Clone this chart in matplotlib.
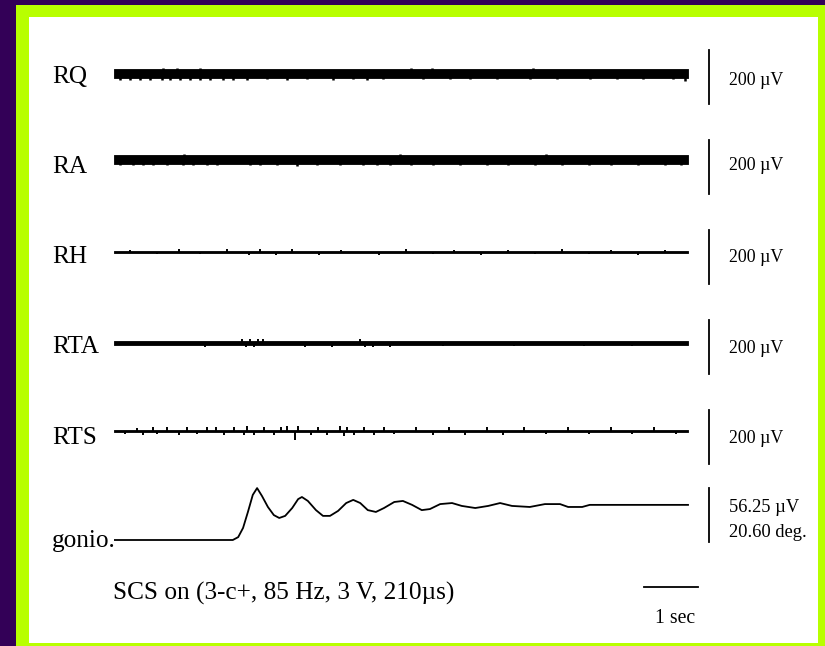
"""EMG traces during spinal cord stimulation onset, with goniometer angle."""

import matplotlib

matplotlib.use("Agg")
import matplotlib.pyplot as plt
from matplotlib.patches import Rectangle

# ---- data -------------------------------------------------------------
CHANNELS = ["RQ", "RA", "RH", "RTA", "RTS"]
EMG_SCALE_UV = 200.0          # vertical calibration bar for each EMG row
GONIO_SCALE_UV = 56.25
GONIO_SCALE_DEG = 20.60
TIME_BAR_S = 1.0

# envelope half-width (uV) per 1-s segment
SEG_T = [0, 1, 2, 3, 4, 5, 6, 7, 8, 9, 10, 10.63]
rq_env = [16, 16, 15, 15, 15, 15, 15, 15, 15, 15, 15]
ra_env = [16, 16, 16, 16, 16, 16, 16, 16, 16, 16, 16]
rh_env = [4, 4, 5, 5, 5, 4, 4, 4, 4, 4, 4]
rta_env = [7, 7, 7, 7, 7, 7, 7, 7, 7, 7, 7]
rts_env = [4, 4, 4, 5, 5, 5, 4, 4, 4, 4, 4]

# single spikes (time s, amplitude uV)
rq_spk_t = [0.11, 0.30, 0.48, 0.67, 0.89, 0.91, 1.04, 1.17, 1.22, 1.41, 1.59, 1.59,
            1.78, 2.02, 2.20, 2.46, 2.83, 3.20, 3.57, 4.06, 4.43, 4.69, 4.98, 5.50,
            5.72, 5.89, 6.22, 6.59, 7.09, 7.70, 7.76, 8.20, 8.81, 9.31, 9.80, 10.35, 10.57]
rq_spk_a = [-24, -24, -23, -24, -25, 22, -24, 22, -23, -24, -25, 22,
            -24, -23, -24, -23, -22, -23, -22, -23, -22, -23, -22, 21,
            -22, 22, -22, -22, -22, -22, 21, -22, -22, -22, -22, -22, -26]
ra_spk_t = [0.11, 0.35, 0.54, 0.72, 0.98, 1.28, 1.30, 1.46, 1.72, 1.91, 2.52, 2.70,
            3.02, 3.39, 3.76, 4.19, 4.61, 4.87, 5.11, 5.30, 5.50, 5.90, 6.40, 6.90,
            7.30, 7.80, 8.00, 8.30, 8.80, 9.20, 9.70, 10.20, 10.50]
ra_spk_a = [-22, -21, -22, -21, -22, -22, 21, -21, -22, -21, -22, -21,
            -22, -23, -21, -22, -21, -22, -21, 20, -21, -21, -21, -21,
            -21, -21, 20, -21, -21, -21, -21, -21, -21]
rh_spk_t = [0.30, 0.80, 1.20, 1.60, 2.10, 2.50, 2.70, 3.00, 3.30, 3.80, 4.20, 4.90,
            5.40, 5.90, 6.30, 6.80, 7.30, 7.80, 8.30, 8.80, 9.20, 9.70, 10.20]
rh_spk_a = [9, -9, 10, -9, 11, -12, 11, -11, 12, -10, 9, -10,
            10, -9, 9, -10, 9, -9, 10, -9, 9, -10, 9]
rta_spk_t = [1.69, 2.37, 2.45, 2.52, 2.60, 2.67, 2.76, 3.54, 4.04, 4.56, 4.65, 4.80,
             5.11, 6.10, 7.40, 8.70, 9.60]
rta_spk_a = [-14, 14, -14, 15, -14, 14, 15, -13, -13, 14, -13, -13,
             -13, -12, -12, -12, -12]
rts_spk_t = [0.20, 0.42, 0.54, 0.73, 0.80, 0.98, 1.20, 1.35, 1.54, 1.72, 1.88, 2.03,
             2.22, 2.40, 2.47, 2.59, 2.78, 2.96, 3.09, 3.21, 3.35, 3.40, 3.64, 3.77,
             3.95, 4.19, 4.26, 4.32, 4.44, 4.63, 4.81, 5.00, 5.18, 5.60, 5.90, 6.20,
             6.50, 6.90, 7.20, 7.60, 8.00, 8.40, 8.80, 9.20, 9.60, 10.00, 10.40]
rts_spk_a = [-12, 12, -13, 14, -12, 15, -13, 14, -12, 15, 16, -14,
             16, -15, 17, -16, 15, -14, 16, 17, -33, 18, -14, 15,
             -13, 18, -17, 16, -14, 15, -13, 14, -12, 14, -13, 13,
             -13, 14, -13, 13, -12, 13, -12, 13, -12, 13, -12]

CHANNEL_ENV = [rq_env, ra_env, rh_env, rta_env, rts_env]
CHANNEL_SPK = [(rq_spk_t, rq_spk_a), (ra_spk_t, ra_spk_a), (rh_spk_t, rh_spk_a),
               (rta_spk_t, rta_spk_a), (rts_spk_t, rts_spk_a)]

# goniometer angle (deg above resting baseline)
gonio_t = [0.00, 2.20, 2.30, 2.39, 2.48, 2.57, 2.65, 2.74, 2.85, 2.96, 3.06, 3.17,
           3.30, 3.41, 3.48, 3.59, 3.74, 3.87, 4.00, 4.15, 4.30, 4.43, 4.56, 4.70,
           4.85, 5.00, 5.19, 5.35, 5.52, 5.70, 5.85, 6.04, 6.26, 6.44, 6.69, 6.93,
           7.15, 7.37, 7.70, 7.98, 8.26, 8.41, 8.67, 8.81, 9.09, 10.63]
gonio_deg = [0.0, 0.0, 1.1, 4.6, 10.7, 17.2, 19.8, 16.8, 12.6, 9.5, 8.4, 9.2,
             12.2, 15.6, 16.4, 14.9, 11.4, 9.2, 9.2, 11.1, 14.1, 15.3, 14.1, 11.4,
             10.7, 12.2, 14.5, 14.9, 13.4, 11.4, 11.8, 13.7, 14.1, 13.0, 12.2, 13.0,
             14.1, 13.0, 12.6, 13.7, 13.7, 12.6, 12.6, 13.4, 13.4, 13.4]

STIM_TEXT = "SCS on (3-c+, 85 Hz, 3 V, 210\u00b5s)"

# ---- layout (pixel space of the 825x646 slide) -------------------------
W, H = 825, 646
PURPLE = "#330057"
GREEN = "#b8ff00"
SERIF = ["Liberation Serif", "DejaVu Serif"]
X0, X1 = 114, 698                 # trace start / right end of time bar (px)
PX_PER_S = 54.0
UV_PER_PX = EMG_SCALE_UV / 54.0
DEG_PER_PX = GONIO_SCALE_DEG / 54.0
ROW_Y = [73.5, 159.5, 252, 343, 431]     # trace centres
BAR_Y = [77, 167, 257, 347, 437]         # calibration bar centres
LABEL_BASE = [83, 173, 263, 353, 444]
SCALE_BASE = [85, 170, 262, 353, 443]
SPIKE_LW = [1.8, 1.8, 1.4, 1.4, 1.4]
BAR_X = 709
LW = 1.3
BIG, SMALL = 18.2, 12.9


def fx(px):
    return px / W


def fy(py):
    return 1 - py / H


fig = plt.figure(figsize=(W / 100, H / 100), dpi=100)
fig.patch.set_facecolor(PURPLE)
fig.patches.append(Rectangle((fx(16), 0), 1 - fx(16), fy(5), transform=fig.transFigure,
                             facecolor=GREEN, edgecolor="none", zorder=-2))
fig.patches.append(Rectangle((fx(29), fy(643)), fx(818) - fx(29), fy(17) - fy(643),
                             transform=fig.transFigure, facecolor="white",
                             edgecolor="none", zorder=-1))

xlim = (0, (X1 - X0) / PX_PER_S)
bar_t = (BAR_X - X0) / PX_PER_S

for i, name in enumerate(CHANNELS):
    c = ROW_Y[i]
    half_px = 40
    ax = fig.add_axes([fx(X0), fy(c + half_px), fx(X1) - fx(X0), 2 * half_px / H])
    ax.set_xlim(*xlim)
    ax.set_ylim(-half_px * UV_PER_PX, half_px * UV_PER_PX)
    ax.axis("off")

    env = CHANNEL_ENV[i] + [CHANNEL_ENV[i][-1]]
    ax.fill_between(SEG_T, [-e for e in env], env, step="post", facecolor="black",
                    edgecolor="black", lw=0.6)
    spk_t, spk_a = CHANNEL_SPK[i]
    ax.vlines(spk_t, 0, spk_a, color="black", lw=SPIKE_LW[i])

    mid = (c - BAR_Y[i]) * UV_PER_PX
    ax.plot([bar_t, bar_t], [mid - EMG_SCALE_UV / 2, mid + EMG_SCALE_UV / 2],
            color="black", lw=LW, clip_on=False)

    fig.text(fx(52), fy(LABEL_BASE[i]), name, fontsize=BIG, family=SERIF,
             va="baseline", ha="left")
    fig.text(fx(729), fy(SCALE_BASE[i]), f"{EMG_SCALE_UV:.0f} \u00b5V", fontsize=SMALL,
             family=SERIF, va="baseline", ha="left")

# goniometer row
g_base = 540
axg = fig.add_axes([fx(X0), fy(605), fx(X1) - fx(X0), (605 - 465) / H])
axg.set_xlim(*xlim)
axg.set_ylim((g_base - 605) * DEG_PER_PX, (g_base - 465) * DEG_PER_PX)
axg.axis("off")
axg.plot(gonio_t, gonio_deg, color="black", lw=LW)

gbar_mid = (g_base - 515) * DEG_PER_PX
axg.plot([bar_t, bar_t], [gbar_mid - GONIO_SCALE_DEG / 2, gbar_mid + GONIO_SCALE_DEG / 2],
         color="black", lw=LW, clip_on=False)
tbar_y = (g_base - 587) * DEG_PER_PX
axg.plot([xlim[1] - TIME_BAR_S, xlim[1]], [tbar_y, tbar_y], color="black", lw=LW,
         clip_on=False)

fig.text(fx(52), fy(547), "gonio.", fontsize=BIG, family=SERIF, va="baseline")
fig.text(fx(729), fy(512), f"{GONIO_SCALE_UV:.2f} \u00b5V", fontsize=SMALL + 0.4,
         family=SERIF, va="baseline")
fig.text(fx(729), fy(537), f"{GONIO_SCALE_DEG:.2f} deg.", fontsize=SMALL + 0.4,
         family=SERIF, va="baseline")
fig.text(fx(113), fy(600), STIM_TEXT, fontsize=BIG, family=SERIF, va="baseline")
fig.text(fx(655), fy(623), f"{TIME_BAR_S:.0f} sec", fontsize=14.2, family=SERIF,
         va="baseline")

fig.savefig("out.png", dpi=100, facecolor=PURPLE)
